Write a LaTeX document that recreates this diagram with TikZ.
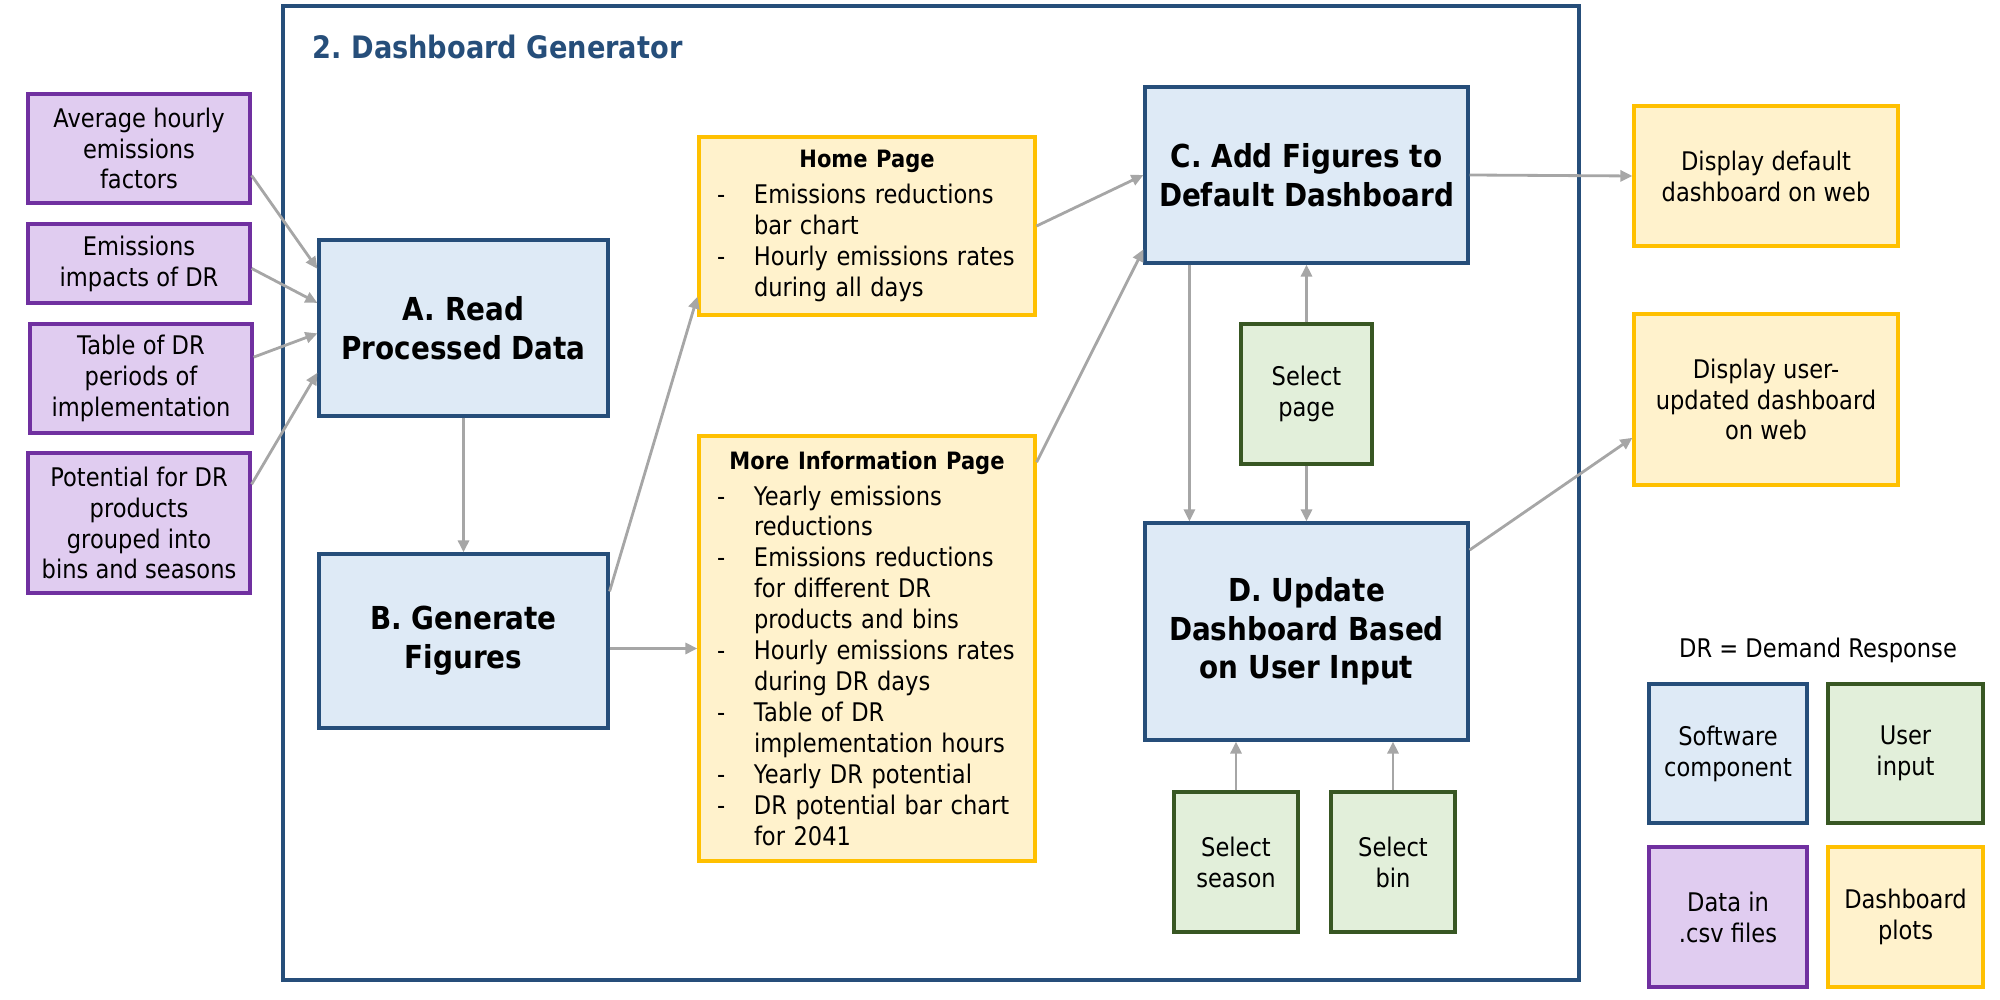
\documentclass[tikz,border=0pt]{standalone}
\usepackage{fontspec}
\setmainfont{DejaVu Sans}[FakeStretch=0.88]
\usetikzlibrary{arrows.meta,calc}

\definecolor{compfill}{RGB}{222,234,246}
\definecolor{compline}{RGB}{38,78,122}
\definecolor{datafill}{RGB}{224,204,240}
\definecolor{dataline}{RGB}{112,48,160}
\definecolor{plotfill}{RGB}{255,242,204}
\definecolor{plotline}{RGB}{255,192,0}
\definecolor{userfill}{RGB}{226,239,218}
\definecolor{userline}{RGB}{56,87,35}
\definecolor{arrowgray}{RGB}{166,166,166}

\newcommand{\listhead}[1]{\makebox[\linewidth]{\fontsize{6.8}{8.8}\selectfont\bfseries #1}}
\newcommand{\listdash}{\hspace*{0.1cm}\makebox[0.37cm][l]{-}}
\newcommand{\listcont}{\hspace*{0.47cm}}

\begin{document}
\begin{tikzpicture}[
  box/.style={draw, line width=0.9pt, align=center, inner sep=0pt,
    font=\fontsize{7.3}{8.8}\selectfont},
  comp/.style={box, fill=compfill, draw=compline,
    font=\fontsize{9}{11}\selectfont\bfseries},
  data/.style={box, fill=datafill, draw=dataline, minimum width=2.22cm},
  plot/.style={box, fill=plotfill, draw=plotline},
  user/.style={box, fill=userfill, draw=userline},
  listbox/.style={plot, align=left, text width=3.2cm, inner xsep=0.08cm},
  arr/.style={draw=arrowgray, line width=0.8pt, -{Triangle[length=1.2mm,width=1.1mm]}}
]
\useasboundingbox (0,0) rectangle (20,-10);

% generator frame
\draw[compline, line width=0.9pt] (2.83,-0.06) rectangle (15.79,-9.80);
\node[anchor=west, inner sep=0pt, text=compline,
  font=\fontsize{8.8}{10}\selectfont\bfseries] (title) at (3.12,-0.47) {2.\ Dashboard Generator};

% input data
\node[data, minimum height=1.09cm] (p1) at (1.39,-1.485) {Average hourly\\emissions\\factors};
\node[data, minimum height=0.79cm] (p2) at (1.39,-2.635) {Emissions\\impacts of DR};
\node[data, minimum height=1.09cm] (p3) at (1.41,-3.785) {Table of DR\\periods of\\implementation};
\node[data, minimum height=1.40cm] (p4) at (1.39,-5.23) {Potential for DR\\products\\grouped into\\bins and seasons};

% software components
\node[comp, minimum width=2.89cm, minimum height=1.76cm] (a) at (4.635,-3.28) {A. Read\\Processed Data};
\node[comp, minimum width=2.89cm, minimum height=1.74cm] (b) at (4.635,-6.41) {B. Generate\\Figures};
\node[comp, minimum width=3.23cm, minimum height=1.76cm] (c) at (13.065,-1.75) {C. Add Figures to\\Default Dashboard};
\node[comp, minimum width=3.23cm, minimum height=2.17cm] (d) at (13.065,-6.315) {D. Update\\Dashboard Based\\on User Input};

% pages
\node[listbox, minimum height=1.78cm] (home) at (8.67,-2.26) {\noindent\listhead{Home Page}\\[1.3pt]
\listdash Emissions reductions\\
\listcont bar chart\\
\listdash Hourly emissions rates\\
\listcont during all days};
\node[listbox, minimum height=4.25cm] (more) at (8.67,-6.485) {\noindent\listhead{More Information Page}\\[1.3pt]
\listdash Yearly emissions\\
\listcont reductions\\
\listdash Emissions reductions\\
\listcont for different DR\\
\listcont products and bins\\
\listdash Hourly emissions rates\\
\listcont during DR days\\
\listdash Table of DR\\
\listcont implementation hours\\
\listdash Yearly DR potential\\
\listdash DR potential bar chart\\
\listcont for 2041};

% user input
\node[user, minimum width=1.31cm, minimum height=1.40cm] (selpage) at (13.065,-3.94) {Select\\page};
\node[user, minimum width=1.24cm, minimum height=1.40cm] (season) at (12.36,-8.62) {Select\\season};
\node[user, minimum width=1.24cm, minimum height=1.40cm] (bin) at (13.93,-8.62) {Select\\bin};

% outputs
\node[plot, minimum width=2.64cm, minimum height=1.40cm] (disp1) at (17.66,-1.76) {Display default\\dashboard on web};
\node[plot, minimum width=2.64cm, minimum height=1.71cm] (disp2) at (17.66,-3.995) {Display user-\\updated dashboard\\on web};

% legend
\node[inner sep=0pt, font=\fontsize{7.3}{8.8}\selectfont] (key) at (18.18,-6.50) {DR = Demand Response};
\node[box, fill=compfill, draw=compline, minimum width=1.58cm, minimum height=1.39cm] (soft) at (17.28,-7.535) {Software\\component};
\node[user, minimum width=1.55cm, minimum height=1.39cm] (userin) at (19.055,-7.535) {User\\input};
\node[data, minimum width=1.58cm, minimum height=1.40cm] (csv) at (17.28,-9.17) {Data in\\.csv files};
\node[plot, minimum width=1.55cm, minimum height=1.40cm] (plots) at (19.055,-9.17) {Dashboard\\plots};

% connectors
\draw[arr] ($(p1.north east)!0.74!(p1.south east)$) -- ($(a.north west)!0.17!(a.south west)$);
\draw[arr] ($(p2.north east)!0.56!(p2.south east)$) -- ($(a.north west)!0.36!(a.south west)$);
\draw[arr] ($(p3.north east)!0.31!(p3.south east)$) -- ($(a.north west)!0.53!(a.south west)$);
\draw[arr] ($(p4.north east)!0.23!(p4.south east)$) -- ($(a.north west)!0.75!(a.south west)$);
\draw[arr] (a.south) -- (b.north);
\draw[arr] ($(b.north east)!0.22!(b.south east)$) -- ($(home.north west)!0.89!(home.south west)$);
\draw[arr] (b.east |- more.west) -- (more.west);
\draw[arr] (home.east) -- (c.west);
\draw[arr] ($(more.north east)!0.065!(more.south east)$) -- ($(c.north west)!0.915!(c.south west)$);
\draw[arr] ($(c.south west)+(0.46,0)$) -- ($(d.north west)+(0.46,0)$);
\draw[arr] (selpage.north) -- (selpage.north |- c.south);
\draw[arr] (selpage.south) -- (selpage.south |- d.north);
\draw[arr] (season.north) -- (season.north |- d.south);
\draw[arr] (bin.north) -- (bin.north |- d.south);
\draw[arr] (c.east) -- (disp1.west);
\draw[arr] ($(d.north east)!0.13!(d.south east)$) -- ($(disp2.north west)!0.72!(disp2.south west)$);
\end{tikzpicture}
\end{document}
